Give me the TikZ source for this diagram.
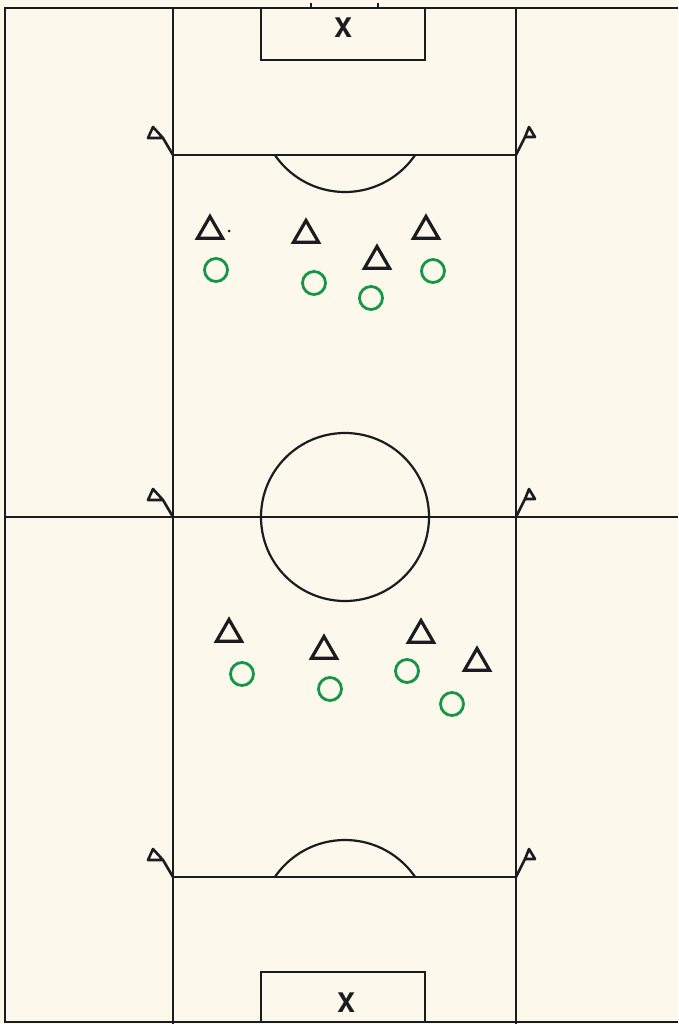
\documentclass[tikz,border=0pt]{standalone}
\usepackage{fontspec}
\setmainfont{TeX Gyre Heros}
\usepackage{tikz}
\usetikzlibrary{shapes.geometric}
\definecolor{papier}{RGB}{252,248,236}
\definecolor{linie}{RGB}{28,28,32}
\definecolor{gruen}{RGB}{20,150,70}
\tikzset{
    angreifer/.style={draw=linie,line width=3.2pt,regular polygon,regular polygon sides=3,minimum size=29pt,inner sep=0pt},
    abwehr/.style={draw=gruen,line width=2.8pt,circle,minimum size=23pt,inner sep=0pt},
    fahne/.style={line width=2.6pt,line join=round}
}

\begin{document}
\begin{tikzpicture}[x=1pt,y=-1pt,line width=2.2pt,color=linie]
        \fill[papier] (0,0) rectangle (678,1024);%背景
        \useasboundingbox (0,0) rectangle (678,1024);
        \draw (678,8)--(5,8)--(5,1022)--(678,1022);%外框
        \draw (173,8)--(173,1024);
        \draw (516,8)--(516,1024);
        \draw (5,517)--(678,517);%中线
        \draw (173,155)--(516,155);
        \draw (173,877)--(516,877);
        \draw (345,517) circle[radius=84];%中圈
        \begin{scope}
            \clip (173,155) rectangle (516,300);
            \draw (345,107) circle[radius=85];
        \end{scope}
        \begin{scope}
            \clip (173,877) rectangle (516,750);
            \draw (345,925) circle[radius=85];
        \end{scope}
        \draw (261,8) rectangle (425,60);%球门区
        \draw (261,1022) rectangle (425,972);
        \draw[line width=1.6pt] (311,3)--(311,8) (378,3)--(378,8);
        \node[font=\fontsize{27}{27}\selectfont\bfseries] (xoben) at (343,28) {X};
        \node[font=\fontsize{27}{27}\selectfont\bfseries] (xunten) at (346,1003) {X};
        \foreach \y in {155,517,877}%角旗
        {
            \draw[fahne] (173,\y)--++(-10,-17)--++(-15,0)--++(5,-11)--++(10,11);
            \draw[fahne] (516,\y)--++(9,-18)--++(10,0)--++(-6,-10)--++(-4,10);
        }
        \foreach \x/\y [count=\i] in {210/231,306/235,377/261,426/231,229/634,324/651,421/635,477/663}
        {
            \node[angreifer] (a\i) at (\x,\y) {};
        }
        \foreach \x/\y [count=\i] in {216/270,314/283,371/298,433/271,242/674,330/689,407/671,452/704}
        {
            \node[abwehr] (b\i) at (\x,\y) {};
        }
        \fill (229,231) circle[radius=1.5];
\end{tikzpicture}
\end{document}
